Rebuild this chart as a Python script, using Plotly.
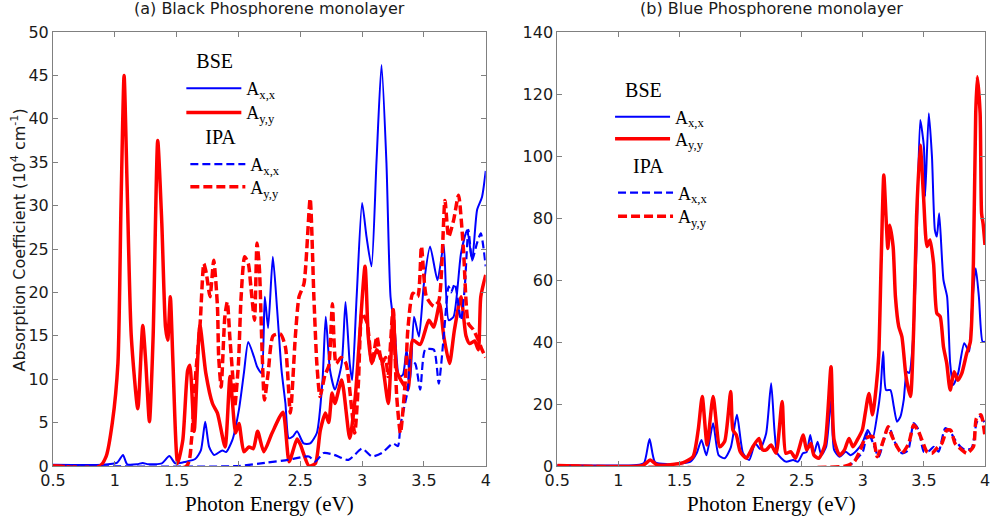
import plotly.graph_objects as go

# ---------------- data: (a) Black phosphorene ----------------
a_bse_xx_E = [0.5, 0.9, 1.02, 1.066, 1.10, 1.18, 1.226, 1.27, 1.38, 1.441, 1.49, 1.575, 1.65, 1.696, 1.731,
              1.763, 1.803, 1.87, 1.90, 1.951, 2.004, 2.044, 2.079, 2.125, 2.152, 2.187, 2.213, 2.24, 2.278,
              2.313, 2.348, 2.38, 2.407, 2.44, 2.474, 2.527, 2.58, 2.634, 2.68, 2.706, 2.74, 2.78, 2.835,
              2.866, 2.90, 2.92, 2.956, 3.00, 3.036, 3.076, 3.116, 3.157, 3.197, 3.23, 3.264, 3.30, 3.33,
              3.36, 3.39, 3.42, 3.46, 3.50, 3.55, 3.61, 3.66, 3.70, 3.74, 3.80, 3.85, 3.89, 3.93, 3.97, 4.0]
a_bse_xx_V = [0.15, 0.15, 0.4, 1.27, 0.2, 0.2, 0.35, 0.2, 0.3, 1.15, 0.3, 0.5, 0.8, 1.8, 5.1,
              2.2, 1.27, 1.8, 1.6, 3.0, 6.5, 10.7, 14.3, 12.6, 11.4, 10.7, 19.5, 15.9, 24.1,
              18.0, 11.1, 7.2, 3.2, 3.4, 4.0, 2.6, 2.6, 3.8, 9.9, 17.2, 11.1, 8.8, 11.8,
              18.9, 11.8, 9.9, 19.5, 30.3, 26.4, 23.0, 34.9, 46.2, 34.9, 19.5, 15.7, 10.3, 10.5,
              13.4, 9.9, 17.2, 14.9, 21.0, 25.3, 21.4, 25.5, 16.8, 17.2, 24.5, 27.2, 23.7, 29.5, 31.0, 34.0]

a_bse_yy_E = [0.5, 0.88, 0.93, 0.98, 1.025, 1.05, 1.075, 1.10, 1.133, 1.186, 1.226, 1.25, 1.280, 1.31,
              1.347, 1.38, 1.41, 1.428, 1.449, 1.47, 1.508, 1.55, 1.589, 1.607, 1.642, 1.688, 1.736,
              1.790, 1.830, 1.892, 1.932, 1.977, 2.004, 2.044, 2.085, 2.120, 2.155, 2.205, 2.272, 2.36,
              2.41, 2.474, 2.50, 2.57, 2.622, 2.662, 2.703, 2.73, 2.757, 2.78, 2.835, 2.90, 2.945, 3.024,
              3.05, 3.078, 3.118, 3.158, 3.212, 3.252, 3.28, 3.33, 3.37, 3.41, 3.47, 3.54, 3.58, 3.627,
              3.66, 3.707, 3.747, 3.80, 3.84, 3.87, 3.91, 3.94, 3.96, 4.0]
a_bse_yy_V = [0.0, 0.0, 1.1, 5.0, 11.8, 30.0, 45.0, 32.0, 15.0, 6.6, 16.2, 12.0, 5.1, 15.0,
              37.5, 28.0, 16.0, 14.5, 19.5, 12.0, 0.3, 3.0, 11.0, 11.6, 4.0, 16.2, 10.7,
              7.2, 6.1, 2.2, 10.3, 3.8, 4.9, 1.65, 2.2, 2.0, 4.0, 1.65, 3.8, 6.2,
              0.5, 3.1, 2.5, 0.0, 0.3, 4.1, 6.1, 5.0, 8.4, 7.2, 9.9, 3.2, 8.0, 23.0,
              14.9, 11.8, 13.4, 12.2, 7.2, 18.0, 11.0, 9.5, 8.8, 14.5, 14.0, 16.8, 16.0, 18.7,
              15.0, 11.8, 15.7, 19.5, 15.0, 14.1, 14.4, 13.4, 19.5, 22.0]

a_ipa_xx_E = [0.5, 2.0, 2.23, 2.40, 2.57, 2.62, 2.69, 2.77, 2.89, 3.0, 3.08, 3.16, 3.25, 3.29, 3.31,
              3.37, 3.39, 3.43, 3.47, 3.51, 3.58, 3.62, 3.66, 3.70, 3.72, 3.75, 3.80, 3.83, 3.86,
              3.89, 3.93, 3.96, 4.0]
a_ipa_xx_V = [0.0, 0.0, 0.4, 0.7, 1.1, 0.5, 1.5, 1.3, 0.7, 2.0, 1.1, 1.5, 2.6, 2.3, 4.7,
              8.8, 12.2, 11.8, 8.8, 13.4, 13.4, 9.5, 14.9, 20.7, 20.0, 21.0, 16.8, 20.5, 27.2,
              23.7, 25.7, 26.8, 23.0]

a_ipa_yy_E = [0.5, 1.58, 1.62, 1.65, 1.69, 1.72, 1.74, 1.77, 1.80, 1.83, 1.84, 1.86, 1.89, 1.91, 1.93,
              1.96, 1.97, 2.0, 2.02, 2.05, 2.08, 2.10, 2.13, 2.15, 2.17, 2.19, 2.21, 2.24, 2.28, 2.34,
              2.38, 2.42, 2.46, 2.49, 2.53, 2.58, 2.61, 2.634, 2.66, 2.70, 2.73, 2.76, 2.79, 2.83,
              2.87, 2.94, 2.97, 3.0, 3.04, 3.08, 3.12, 3.16, 3.19, 3.21, 3.25, 3.28, 3.31, 3.35,
              3.37, 3.41, 3.45, 3.48, 3.52, 3.58, 3.62, 3.67, 3.70, 3.74, 3.78, 3.82, 3.86, 3.90,
              3.94, 3.97, 4.0]
a_ipa_yy_V = [0.0, 0.0, 3.0, 9.9, 16.4, 23.3, 22.2, 19.5, 23.7, 18.4, 12.6, 9.1, 17.2, 18.9, 14.9,
              9.1, 6.8, 11.8, 19.1, 24.1, 23.3, 20.7, 16.8, 25.7, 22.6, 13.7, 7.6, 10.7, 15.0, 15.2,
              13.7, 6.1, 14.9, 19.5, 21.0, 30.8, 19.5, 11.8, 8.0, 10.5, 11.5, 18.7, 11.8, 12.5,
              11.8, 3.8, 9.5, 17.6, 16.5, 11.8, 14.9, 11.8, 12.5, 10.3, 18.0, 8.0, 3.8, 9.9,
              15.7, 19.9, 19.5, 25.3, 19.5, 18.4, 19.0, 30.6, 26.4, 28.3, 31.2, 24.9, 16.4, 15.7,
              14.5, 13.4, 12.5]

# ---------------- data: (b) Blue phosphorene ----------------
b_bse_xx_E = [0.5, 1.15, 1.21, 1.255, 1.30, 1.40, 1.50, 1.59, 1.64, 1.68, 1.72, 1.775, 1.82, 1.87, 1.92,
              1.97, 2.02, 2.07, 2.12, 2.16, 2.209, 2.25, 2.277, 2.30, 2.37, 2.43, 2.47, 2.51, 2.54,
              2.57, 2.60, 2.63, 2.66, 2.70, 2.74, 2.765, 2.81, 2.86, 2.90, 2.95, 2.995, 3.04, 3.08,
              3.12, 3.145, 3.167, 3.19, 3.226, 3.254, 3.28, 3.308, 3.335, 3.36, 3.38, 3.416, 3.44,
              3.47, 3.50, 3.51, 3.54, 3.566, 3.59, 3.606, 3.625, 3.66, 3.69, 3.715, 3.74, 3.78, 3.83,
              3.87, 3.89, 3.924, 3.95, 3.98, 4.0]
b_bse_xx_V = [0.3, 0.3, 1.0, 8.7, 1.2, 0.6, 0.8, 1.4, 4.1, 8.4, 3.5, 13.8, 3.5, 2.5, 6.0,
              16.5, 4.1, 1.9, 7.3, 5.5, 10.5, 26.7, 11.6, 4.1, 1.4, 1.9, 1.4, 4.1, 4.5,
              10.0, 4.1, 7.8, 3.5, 6.2, 21.3, 5.2, 3.0, 4.6, 3.5, 5.0, 7.3, 11.6, 8.9,
              17.0, 24.5, 36.9, 24.5, 24.5, 19.1, 14.3, 15.9, 21.3, 30.4, 30.0, 43.9, 70.8,
              111.6, 103.0, 86.9, 113.8, 99.8, 76.1, 74.0, 81.5, 60.0, 54.6, 33.1, 26.1, 29.9, 39.6,
              36.9, 49.3, 63.8, 54.6, 40.1, 40.1]

b_bse_yy_E = [0.5, 1.20, 1.26, 1.32, 1.53, 1.61, 1.653, 1.686, 1.726, 1.775, 1.83, 1.87, 1.919, 1.937,
              1.965, 1.997, 2.046, 2.10, 2.15, 2.18, 2.21, 2.25, 2.29, 2.34, 2.37, 2.41, 2.45, 2.513,
              2.54, 2.575, 2.60, 2.64, 2.69, 2.74, 2.765, 2.81, 2.85, 2.887, 2.92, 2.955, 2.996, 3.02,
              3.05, 3.08, 3.11, 3.13, 3.15, 3.172, 3.19, 3.205, 3.22, 3.248, 3.267, 3.294, 3.32,
              3.354, 3.39, 3.416, 3.44, 3.47, 3.497, 3.525, 3.55, 3.579, 3.606, 3.633, 3.66, 3.687,
              3.715, 3.747, 3.777, 3.81, 3.85, 3.88, 3.905, 3.924, 3.937, 3.96, 3.972, 3.985, 4.0]
b_bse_yy_V = [0.2, 0.2, 1.9, 0.3, 1.1, 3.0, 11.6, 22.4, 6.8, 22.4, 6.2, 8.0, 24.0, 11.6,
              10.0, 4.6, 2.5, 6.2, 8.9, 5.2, 5.2, 6.8, 4.1, 20.8, 4.1, 4.6, 2.5, 10.0,
              5.2, 7.3, 3.5, 2.5, 6.8, 32.0, 8.4, 3.5, 5.2, 8.9, 6.2, 8.4, 11.6, 17.0,
              23.4, 16.5, 25.6, 35.3, 65.4, 93.9, 80.4, 70.2, 77.7, 70.8, 54.6, 45.0, 41.7,
              28.8, 22.4, 43.9, 80.4, 103.5, 86.9, 70.8, 72.9, 65.4, 49.3, 48.2, 38.5, 33.1,
              24.5, 30.4, 27.7, 29.9, 36.3, 40.0, 65.4, 113.8, 125.6, 113.8, 81.5, 78.0, 71.3]

b_ipa_xx_E = [0.5, 2.88, 2.94, 3.0, 3.04, 3.08, 3.13, 3.19, 3.213, 3.267, 3.32, 3.37, 3.416, 3.457,
              3.50, 3.54, 3.58, 3.62, 3.674, 3.715, 3.755, 3.80, 3.837, 3.89, 3.93, 3.96, 4.0]
b_ipa_xx_V = [0.0, 0.0, 1.9, 4.6, 11.1, 7.8, 3.0, 11.1, 12.7, 7.3, 4.1, 5.0, 13.8, 11.6,
              4.6, 4.8, 6.2, 4.6, 12.2, 11.1, 8.4, 6.2, 5.2, 5.7, 13.8, 15.9, 13.8]

b_ipa_yy_E = [0.5, 2.86, 2.93, 2.98, 3.02, 3.08, 3.118, 3.17, 3.207, 3.24, 3.28, 3.32, 3.376, 3.416,
              3.45, 3.484, 3.525, 3.566, 3.606, 3.647, 3.688, 3.72, 3.755, 3.81, 3.85, 3.905, 3.93,
              3.967, 4.0]
b_ipa_yy_V = [0.0, 0.0, 1.4, 5.2, 8.9, 9.5, 3.0, 8.4, 12.7, 9.5, 6.2, 4.1, 7.3, 13.2,
              11.6, 8.4, 4.6, 4.1, 5.7, 7.3, 11.6, 11.5, 7.3, 5.2, 4.1, 6.2, 15.4,
              16.5, 9.5]

x_ticks = [0.5, 1, 1.5, 2, 2.5, 3, 3.5, 4]
x_tick_labels = ["0.5", "1", "1.5", "2", "2.5", "3", "3.5", "4"]
ya_ticks = [0, 5, 10, 15, 20, 25, 30, 35, 40, 45, 50]
yb_ticks = [0, 20, 40, 60, 80, 100, 120, 140]

BLUE = "#0000ff"
RED = "#ff0000"
SERIF = "Liberation Serif, Times New Roman, serif"
SANS = "DejaVu Sans, sans-serif"
NB = "\u00a0"

fig = go.Figure()

def add(E, V, xa, ya, color, width, dash, name, legend, group, gtitle):
    fig.add_trace(go.Scatter(
        x=E, y=V, xaxis=xa, yaxis=ya, mode="lines",
        line=dict(color=color, width=width, dash=dash, shape="spline", smoothing=0.6),
        name=name, legend=legend, legendgroup=group,
        legendgrouptitle=dict(text=gtitle, font=dict(family=SERIF, size=20, color="black")) if gtitle else None,
        hoverinfo="skip"))

AXX = "A<sub>x,x</sub>"
AYY = "A<sub>y,y</sub>"
T_BSE = NB * 2 + "BSE"
T_IPA = NB * 3 + "IPA"

add(a_bse_xx_E, a_bse_xx_V, "x", "y", BLUE, 2.0, "solid", AXX, "legend", "g1", T_BSE)
add(a_bse_yy_E, a_bse_yy_V, "x", "y", RED, 3.5, "solid", AYY, "legend2", "g2", None)
add(a_ipa_xx_E, a_ipa_xx_V, "x", "y", BLUE, 2.2, "8px,4px", AXX, "legend3", "g3", T_IPA)
add(a_ipa_yy_E, a_ipa_yy_V, "x", "y", RED, 3.5, "9px,4px", AYY, "legend4", "g4", None)

add(b_bse_xx_E, b_bse_xx_V, "x2", "y2", BLUE, 2.0, "solid", AXX, "legend5", "g5", T_BSE)
add(b_bse_yy_E, b_bse_yy_V, "x2", "y2", RED, 3.5, "solid", AYY, "legend6", "g6", None)
add(b_ipa_xx_E, b_ipa_xx_V, "x2", "y2", BLUE, 2.2, "8px,4px", AXX, "legend7", "g7", T_IPA)
add(b_ipa_yy_E, b_ipa_yy_V, "x2", "y2", RED, 3.5, "9px,4px", AYY, "legend8", "g8", None)

axis_common = dict(showline=True, linecolor="#808080", linewidth=1, mirror="ticks",
                   ticks="inside", ticklen=5, tickcolor="#808080", showgrid=False, zeroline=False,
                   tickfont=dict(family=SANS, size=16, color="#1a1a1a"))

def leg(x, y):
    return dict(x=x, y=y, bgcolor="rgba(0,0,0,0)", borderwidth=0, xanchor="left", yanchor="middle",
                font=dict(family=SERIF, size=18, color="black"),
                traceorder="grouped", tracegroupgap=0, itemwidth=55)

fig.update_layout(
    width=999, height=522,
    margin=dict(l=53, r=9, t=32, b=56),
    paper_bgcolor="white", plot_bgcolor="white",
    xaxis=dict(domain=[0, 0.4643], range=[0.5, 4], tickvals=x_ticks, ticktext=x_tick_labels,
               anchor="y", **axis_common),
    yaxis=dict(domain=[0, 1], range=[0, 50], tickvals=ya_ticks, anchor="x", **axis_common),
    xaxis2=dict(domain=[0.5411, 1], range=[0.5, 4], tickvals=x_ticks, ticktext=x_tick_labels,
                anchor="y2", **axis_common),
    yaxis2=dict(domain=[0, 1], range=[0, 140], tickvals=yb_ticks, anchor="x2", **axis_common),
    legend=dict(**leg(0.1377, 0.903)),
    legend2=dict(**leg(0.1377, 0.814)),
    legend3=dict(**leg(0.1420, 0.7285)),
    legend4=dict(**leg(0.1420, 0.6425)),
    legend5=dict(**leg(0.5977, 0.8376)),
    legend6=dict(**leg(0.5977, 0.7535)),
    legend7=dict(**leg(0.6009, 0.6625)),
    legend8=dict(**leg(0.6009, 0.575)),
    showlegend=True,
    annotations=[
        dict(text="(a) Black Phosphorene monolayer", xref="paper", yref="paper", x=0.2321, y=1.053,
             xanchor="center", yanchor="middle", showarrow=False, font=dict(family=SANS, size=16, color="#1a1a1a")),
        dict(text="(b) Blue Phosphorene monolayer", xref="paper", yref="paper", x=0.7705, y=1.053,
             xanchor="center", yanchor="middle", showarrow=False, font=dict(family=SANS, size=16, color="#1a1a1a")),
        dict(text="Photon Energy (eV)", xref="paper", yref="paper", x=0.2321, y=-0.088,
             xanchor="center", yanchor="middle", showarrow=False, font=dict(family=SERIF, size=21, color="black")),
        dict(text="Photon Energy (eV)", xref="paper", yref="paper", x=0.7705, y=-0.088,
             xanchor="center", yanchor="middle", showarrow=False, font=dict(family=SERIF, size=21, color="black")),
        dict(text="Absorption Coefficient (10<sup>4</sup> cm<sup>-1</sup>)", xref="paper", yref="paper",
             x=-0.0374, y=0.52, xanchor="center", yanchor="middle", textangle=-90, showarrow=False,
             font=dict(family=SANS, size=16, color="#1a1a1a")),
    ],
)

fig.write_html("out.html")
